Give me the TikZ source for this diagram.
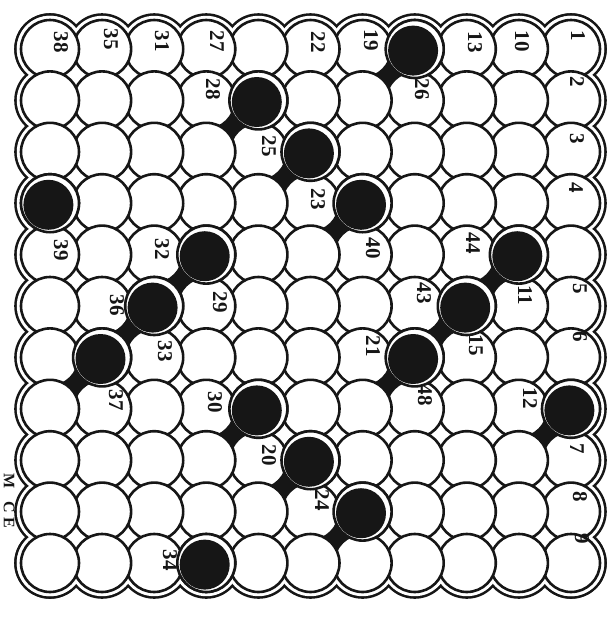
\documentclass[tikz,border=0pt]{standalone}
\usepackage{fontspec}
\setmainfont{Liberation Serif}
\usepackage{xcolor}
\definecolor{ink}{RGB}{22,22,22}

\tikzset{
  disc/.style={draw=ink, fill=white, line width=2.6pt},
  num/.style={rotate=-90, inner sep=0pt, text=ink,
    font=\fontsize{21}{21}\selectfont\bfseries},
  sig/.style={rotate=-90, inner sep=0pt, text=ink,
    font=\fontsize{16}{16}\selectfont\bfseries},
}
\newcommand{\rad}{29pt}

\begin{document}
\begin{tikzpicture}[x=1pt, y=-1pt]
\useasboundingbox (0,0) rectangle (611,633);

\begin{scope}[shift={(-2.1,-2.4)}, x=52.1pt, y=-51.4pt]

%% ── Outer rim (double line round the board) ─────────────────────────────────
\foreach \clr/\dr in {ink/6.8pt, white/4.2pt}{
  \foreach \k in {1,...,11}{
    \fill[\clr] (\k,1) circle (\rad+\dr);
    \fill[\clr] (\k,11) circle (\rad+\dr);
    \fill[\clr] (1,\k) circle (\rad+\dr);
    \fill[\clr] (11,\k) circle (\rad+\dr);
  }
}
\fill[white] (1,1) rectangle (11,11);

%% ── Shadows below the empty holes ───────────────────────────────────────────
\foreach \c/\r in {8/1,5/2,6/3,7/4,4/5,10/5,3/6,9/6,2/7,8/7,5/8,11/8,6/9,7/10}
  \fill[ink] (\c-0.5,\r+0.5) circle (12pt);

%% ── Discs, row by row ───────────────────────────────────────────────────────
\foreach \r in {1,...,11}
  \foreach \c in {11,...,1}
    \draw[disc] (\c,\r) circle (\rad);

%% ── Empty holes ─────────────────────────────────────────────────────────────
\foreach \c/\r in {8/1,5/2,6/3,1/4,7/4,4/5,10/5,3/6,9/6,2/7,8/7,5/8,11/8,6/9,7/10,4/11}{
  \draw[disc] (\c,\r) circle (\rad);
  \fill[ink] ([shift={(-1.6pt,-1.6pt)}]\c,\r) circle (25pt);
}
\end{scope}

%% ── Numbers ─────────────────────────────────────────────────────────────────
\node[num] (n38) at (61,42)  {38};
\node[num] (n35) at (111,39) {35};
\node[num] (n31) at (162,41) {31};
\node[num] (n27) at (217,41) {27};
\node[num] (n22) at (318,42) {22};
\node[num] (n19) at (371,40) {19};
\node[num] (n13) at (475,42) {13};
\node[num] (n10) at (522,41) {10};
\node[num] (n1)  at (578,36) {1};

\node[num] (n28) at (213,89) {28};
\node[num] (n26) at (422,89) {26};
\node[num] (n2)  at (577,82) {2};

\node[num] (n25) at (269,146) {25};
\node[num] (n3)  at (577,139) {3};

\node[num] (n23) at (318,199) {23};
\node[num] (n4)  at (576,188) {4};

\node[num] (n39) at (61,250)  {39};
\node[num] (n32) at (162,249) {32};
\node[num] (n40) at (373,248) {40};
\node[num] (n44) at (473,243) {44};

\node[num] (n36) at (117,305) {36};
\node[num] (n29) at (220,302) {29};
\node[num] (n43) at (424,293) {43};
\node[num] (n11) at (525,295) {11};
\node[num] (n5)  at (580,289) {5};

\node[num] (n33) at (165,351) {33};
\node[num] (n21) at (373,346) {21};
\node[num] (n15) at (476,345) {15};
\node[num] (n6)  at (580,337) {6};

\node[num] (n37) at (116,400) {37};
\node[num] (n30) at (215,402) {30};
\node[num] (n48) at (425,395) {48};
\node[num] (n12) at (530,398) {12};

\node[num] (n20) at (269,455) {20};
\node[num] (n7)  at (577,449) {7};

\node[num] (n24) at (322,500) {24};
\node[num] (n8)  at (580,497) {8};

\node[num] (n34) at (170,560) {34};
\node[num] (n9)  at (582,539) {9};

%% ── Signature ───────────────────────────────────────────────────────────────
\node[sig] (mark) at (9,501) {M\hspace{13pt}C\hspace{4pt}E};

\end{tikzpicture}
\end{document}
